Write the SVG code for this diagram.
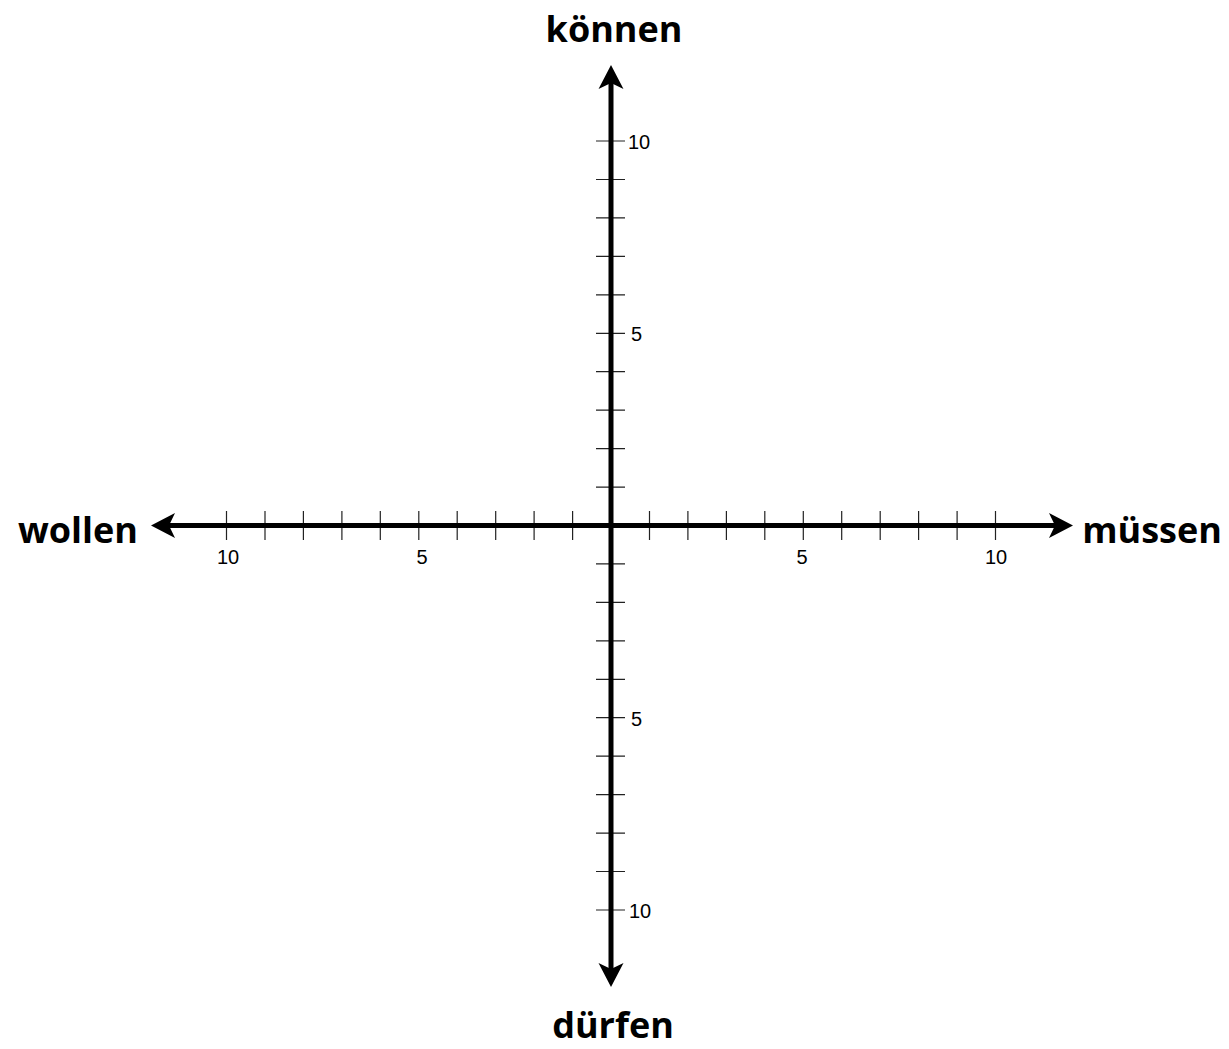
<svg xmlns="http://www.w3.org/2000/svg" width="1229" height="1049" viewBox="0 0 1229 1049">
<style>
.axis{stroke:#000;stroke-width:5;fill:none}
.tick{stroke:#222;stroke-width:1.2;fill:none}
.lbl{font-family:"Open Sans","DejaVu Sans",sans-serif;font-weight:bold;font-size:36px;fill:#000}
.num{font-family:"Liberation Sans Narrow","Liberation Sans",Arial,sans-serif;font-size:20px;fill:#000}
</style>
<defs>
<marker id="arr" viewBox="-6 -13 25 26" markerWidth="25" markerHeight="26" refX="0" refY="0" orient="auto" markerUnits="userSpaceOnUse">
<path d="M18,0 L-6,-12.5 L0,0 L-6,12.5 Z" fill="#000"/>
</marker>
</defs>
<rect width="1229" height="1049" fill="#fff"/>
<g id="ticks">
<path class="tick" d="M226.5,511V540M265,511V540M303.4,511V540M341.9,511V540M380.3,511V540M418.8,511V540M457.2,511V540M495.7,511V540M534.1,511V540M572.6,511V540M649.5,511V540M687.9,511V540M726.4,511V540M764.8,511V540M803.3,511V540M841.7,511V540M880.2,511V540M918.6,511V540M957.1,511V540M995.5,511V540"/>
<path class="tick" d="M596,141H625M596,179.5H625M596,217.9H625M596,256.4H625M596,294.8H625M596,333.3H625M596,371.7H625M596,410.2H625M596,448.6H625M596,487.1H625M596,563.9H625M596,602.4H625M596,640.8H625M596,679.3H625M596,717.7H625M596,756.2H625M596,794.6H625M596,833.1H625M596,871.5H625M596,910H625"/>
</g>
<g id="connectors">
<line class="axis" x1="611" y1="525.5" x2="611" y2="83" marker-end="url(#arr)"/>
<line class="axis" x1="611" y1="525.5" x2="611" y2="969" marker-end="url(#arr)"/>
<line class="axis" x1="611" y1="525.5" x2="1055" y2="525.5" marker-end="url(#arr)"/>
<line class="axis" x1="611" y1="525.5" x2="169" y2="525.5" marker-end="url(#arr)"/>
</g>
<g id="numbers">
<text class="num" x="628" y="149">10</text>
<text class="num" x="631" y="341">5</text>
<text class="num" x="631" y="726">5</text>
<text class="num" x="629" y="918">10</text>
<text class="num" x="228" y="564" text-anchor="middle">10</text>
<text class="num" x="422" y="564" text-anchor="middle">5</text>
<text class="num" x="802" y="564" text-anchor="middle">5</text>
<text class="num" x="996" y="564" text-anchor="middle">10</text>
</g>
<g id="node-koennen"><text class="lbl" x="614" y="42" text-anchor="middle">können</text></g>
<g id="node-duerfen"><text class="lbl" x="613" y="1038" text-anchor="middle">dürfen</text></g>
<g id="node-wollen"><text class="lbl" x="78" y="543" text-anchor="middle">wollen</text></g>
<g id="node-muessen"><text class="lbl" x="1152" y="543" text-anchor="middle">müssen</text></g>
</svg>
